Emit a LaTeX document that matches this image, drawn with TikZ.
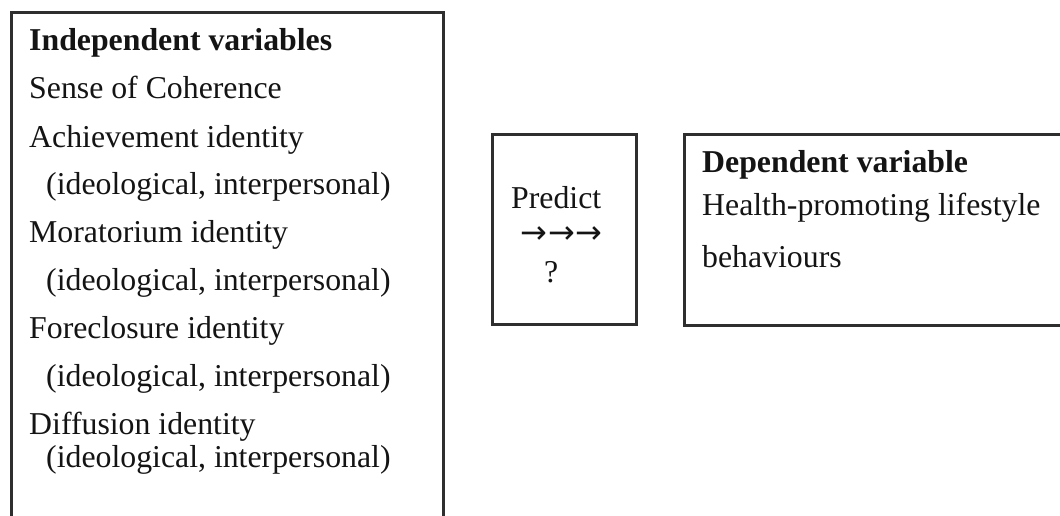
\documentclass[tikz,border=0pt]{standalone}
\usepackage{fontspec}
\setmainfont{Liberation Serif}
\newfontfamily\arrowfont{DejaVu Sans}
\tikzset{
  frame/.style={draw=black!82, line width=3pt, fill=none, inner sep=0pt},
  txt/.style={anchor=base west, inner sep=0pt, text=black!92,
              font=\fontsize{31.8}{38}\selectfont},
  head/.style={txt, font=\fontsize{31.8}{38}\selectfont\bfseries},
}
\begin{document}
\begin{tikzpicture}[x=1pt, y=-1pt]
  \useasboundingbox (0,0) rectangle (1060,515);
  \clip (0,0) rectangle (1060,515);
  \fill[white] (0,0) rectangle (1060,515);

  % frames
  \node[frame, anchor=north west, minimum width=432.5pt, minimum height=520pt] (indep) at (9.5,11) {};
  \node[frame, anchor=north west, minimum width=144pt, minimum height=190pt] (pred) at (490.5,133) {};
  \node[frame, anchor=north west, minimum width=400pt, minimum height=191pt] (dep) at (682.5,133) {};

  % independent variables
  \node[head] (ivh) at (29,50) {Independent variables};
  \node[txt] (soc) at (29,98) {Sense of Coherence};
  \node[txt] (ach) at (29,147) {Achievement identity};
  \node[txt] (achd) at (46,194) {(ideological, interpersonal)};
  \node[txt] (mor) at (29,242) {Moratorium identity};
  \node[txt] (mord) at (46,290) {(ideological, interpersonal)};
  \node[txt] (for) at (29,338) {Foreclosure identity};
  \node[txt] (ford) at (46,386) {(ideological, interpersonal)};
  \node[txt] (dif) at (29,434) {Diffusion identity};
  \node[txt] (difd) at (46,467) {(ideological, interpersonal)};

  % prediction link
  \node[txt] (prd) at (511,208) {Predict};
  \node[txt, font=\fontsize{32}{38}\arrowfont] (arr) at (520,243) {→\kern1pt→\kern1pt→};
  \node[txt] (q) at (544,282) {?};

  % dependent variable
  \node[head] (dvh) at (702,172) {Dependent variable};
  \node[txt] (hpl) at (702,215) {Health-promoting lifestyle};
  \node[txt] (beh) at (702,267) {behaviours};
\end{tikzpicture}
\end{document}
